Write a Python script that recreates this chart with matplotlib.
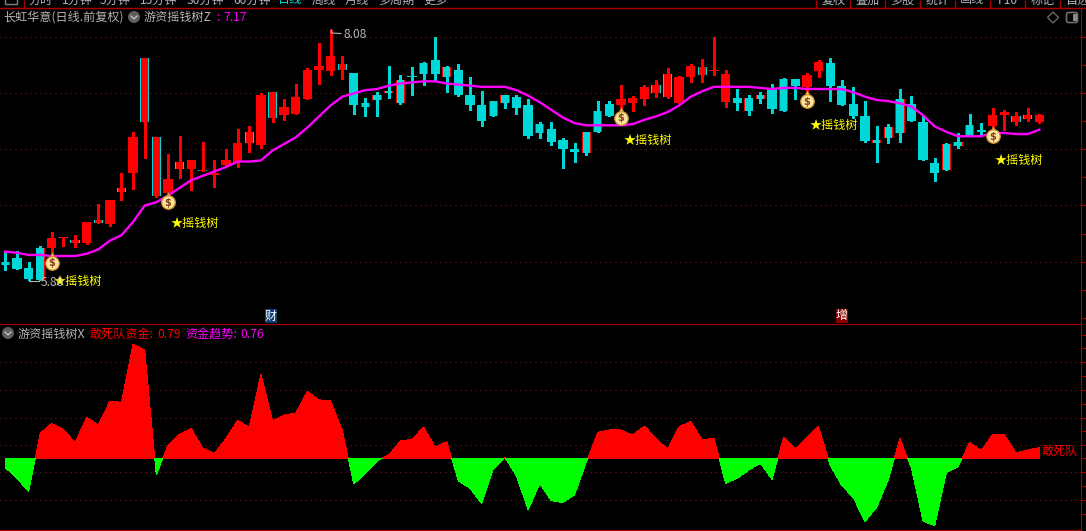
import matplotlib
matplotlib.use("Agg")
import matplotlib.pyplot as plt
from matplotlib.patches import Rectangle, Polygon, FancyBboxPatch, Circle
import numpy as np

plt.rcParams['font.family'] = ['Noto Sans CJK SC', 'DejaVu Sans']

# candle data
highs = [6.06, 6.07, 5.97, 6.11, 6.24, 6.19, 6.21, 6.33, 6.49, 6.53,
         6.78, 7.15, 7.82, 7.10, 6.95, 7.11, 6.89, 7.06, 6.89, 6.99,
         7.18, 7.20, 7.50, 7.51, 7.45, 7.59, 7.73, 7.96, 8.08, 7.84,
         7.69, 7.46, 7.51, 7.75, 7.67, 7.74, 7.79, 8.01, 7.75, 7.77,
         7.65, 7.52, 7.43, 7.49, 7.49, 7.45, 7.24, 7.24, 7.09, 7.05,
         7.15, 7.43, 7.43, 7.58, 7.48, 7.58, 7.62, 7.73, 7.66, 7.77,
         7.81, 8.01, 7.71, 7.54, 7.49, 7.51, 7.59, 7.64, 7.63, 7.69,
         7.80, 7.82, 7.62, 7.56, 7.43, 7.20, 7.22, 7.54, 7.48, 7.29,
         6.91, 7.05, 7.14, 7.31, 7.23, 7.37, 7.35, 7.33, 7.37, 7.31]
lows = [5.89, 5.90, 5.80, 5.80, 6.03, 6.11, 6.10, 6.13, 6.32, 6.29,
        6.53, 6.63, 6.91, 6.56, 6.58, 6.73, 6.62, 6.79, 6.65, 6.84,
        6.83, 6.97, 7.00, 7.24, 7.26, 7.31, 7.45, 7.59, 7.67, 7.63,
        7.31, 7.29, 7.29, 7.46, 7.40, 7.49, 7.58, 7.62, 7.51, 7.48,
        7.35, 7.20, 7.29, 7.37, 7.31, 7.09, 7.09, 7.03, 6.82, 6.88,
        6.94, 7.15, 7.29, 7.35, 7.34, 7.39, 7.47, 7.46, 7.41, 7.60,
        7.60, 7.67, 7.38, 7.35, 7.30, 7.41, 7.32, 7.34, 7.45, 7.51,
        7.65, 7.43, 7.39, 7.28, 7.06, 6.88, 7.05, 7.06, 7.25, 6.89,
        6.70, 6.80, 7.00, 7.11, 7.12, 7.19, 7.17, 7.21, 7.25, 7.23]
body_top = [5.97, 6.00, 5.91, 6.09, 6.18, 6.19, 6.17, 6.33, 6.35, 6.53,
            6.64, 7.10, 7.82, 7.10, 6.72, 6.88, 6.89, 6.80, 6.78, 6.89,
            7.05, 7.15, 7.49, 7.51, 7.38, 7.47, 7.71, 7.75, 7.84, 7.77,
            7.69, 7.41, 7.49, 7.52, 7.62, 7.66, 7.78, 7.80, 7.74, 7.71,
            7.49, 7.39, 7.43, 7.49, 7.47, 7.39, 7.22, 7.18, 7.08, 6.99,
            7.15, 7.34, 7.40, 7.45, 7.46, 7.56, 7.58, 7.68, 7.65, 7.75,
            7.74, 7.71, 7.68, 7.46, 7.46, 7.49, 7.55, 7.63, 7.63, 7.67,
            7.79, 7.78, 7.57, 7.40, 7.29, 7.08, 7.19, 7.45, 7.40, 7.24,
            6.87, 7.04, 7.06, 7.21, 7.17, 7.30, 7.33, 7.29, 7.30, 7.30]
body_bot = [5.94, 5.90, 5.81, 5.80, 6.09, 6.18, 6.14, 6.14, 6.32, 6.31,
            6.60, 6.78, 7.24, 6.57, 6.59, 6.81, 6.81, 6.79, 6.76, 6.85,
            6.88, 7.05, 7.03, 7.28, 7.30, 7.31, 7.45, 7.71, 7.70, 7.71,
            7.39, 7.38, 7.44, 7.50, 7.41, 7.65, 7.68, 7.68, 7.65, 7.49,
            7.39, 7.25, 7.29, 7.41, 7.37, 7.11, 7.14, 7.06, 6.99, 6.97,
            6.96, 7.15, 7.29, 7.39, 7.41, 7.45, 7.50, 7.47, 7.41, 7.65,
            7.67, 7.70, 7.42, 7.41, 7.34, 7.45, 7.36, 7.34, 7.57, 7.56,
            7.70, 7.57, 7.39, 7.29, 7.07, 7.05, 7.09, 7.14, 7.25, 6.89,
            6.78, 6.80, 7.02, 7.11, 7.15, 7.20, 7.30, 7.24, 7.27, 7.24]
# R red, r red with cyan sides, C cyan, c cyan with red sides
candle_kind = ("cCCcRrrRrR" "rRrrRrRrRR" "RrRrRRRRRr" "CccccCcCcC" "CCccCCcCCC"
               "ccCRRRrrRR" "rRRCccCcCR" "RCCCCcccCC" "CcccCRRrrR")

# magenta line of the upper panel
line_z = [6.06, 6.05, 6.03, 6.03, 6.02, 6.02, 6.02, 6.04, 6.08, 6.16,
          6.21, 6.33, 6.48, 6.51, 6.57, 6.64, 6.71, 6.75, 6.79, 6.83,
          6.88, 6.88, 6.89, 6.98, 7.04, 7.10, 7.19, 7.29, 7.39, 7.47,
          7.50, 7.53, 7.54, 7.57, 7.59, 7.60, 7.61, 7.61, 7.59, 7.58,
          7.57, 7.56, 7.56, 7.56, 7.53, 7.48, 7.42, 7.35, 7.28, 7.23,
          7.21, 7.21, 7.21, 7.21, 7.22, 7.26, 7.29, 7.33, 7.39, 7.47,
          7.52, 7.56, 7.56, 7.56, 7.56, 7.55, 7.54, 7.55, 7.55, 7.54,
          7.54, 7.54, 7.54, 7.51, 7.47, 7.44, 7.43, 7.41, 7.38, 7.30,
          7.20, 7.15, 7.11, 7.11, 7.11, 7.14, 7.14, 7.13, 7.13, 7.17]

# lower panel values
fund_x = [-0.69, -1.49, -2.48, 1.86, 2.60, 2.16, 1.17, 3.05, 2.48, 4.27,
          4.17, 8.51, 8.06, -1.24, 0.99, 1.79, 2.23, 0.74, 0.37, 1.49,
          2.83, 2.33, 6.27, 2.80, 3.22, 3.37, 4.98, 4.36, 4.27, 2.11,
          -1.91, -1.12, -0.20, 0.25, 1.29, 1.41, 2.33, 0.84, 1.24, -1.69,
          -2.23, -3.37, -0.79, 0.07, -1.31, -3.84, -1.88, -3.15, -3.30, -2.73,
          -0.30, 1.93, 2.11, 2.11, 1.74, 2.41, 1.49, 0.69, 2.36, 2.75,
          1.36, 1.51, -1.86, -1.49, -0.87, -0.37, -1.56, 1.59, 0.72, 1.56,
          2.38, -0.50, -2.03, -2.93, -4.71, -3.65, -1.61, 1.49, -0.74, -4.69,
          -5.01, -1.07, -0.62, 1.19, 0.57, 1.81, 1.74, 0.42, 0.62, 0.79]

# signal marks
bag_idx = [4, 14, 53, 69, 85]
bag_price = [5.97, 6.52, 7.29, 7.44, 7.12]
star_price = [5.79, 6.32, 7.07, 7.21, 6.89]

main_grid = [8.01, 7.50, 6.99, 6.48, 5.97]
main_minor = [7.755, 7.245, 6.735, 6.225, 5.715, 5.46]
sub_grid = [7.2, 5.1, 3.0, 1.0, -1.0, -3.1]
sub_minor = [9.2, 8.2, 6.15, 4.05, 2.0, 0.0, -2.05, -4.15]

menu_left = ["分时", "1分钟", "5分钟", "15分钟", "30分钟", "60分钟", "日线", "周线", "月线", "多周期", "更多"]
menu_left_x = [28, 62, 100, 140, 187, 233, 278, 312, 345, 378, 423]
menu_right = ["复权", "叠加", "多股", "统计", "画线", "F10", "标记", "自选"]
menu_right_x = [816, 850, 885, 920, 955, 990, 1025, 1060]

RED = '#ff0000'
CYAN = '#00d8d8'
FRAME = '#a80000'
GRID = '#8a1c1c'
GRAY = '#b4b4b4'
FS = 8.7

W, H = 1086, 531
fig = plt.figure(figsize=(W / 100, H / 100), dpi=100, facecolor='black')


def px_axes(left, top, right, bottom):
    return fig.add_axes([left / W, 1 - bottom / H, (right - left) / W, (bottom - top) / H])


def label(x, y, s, color=GRAY, **kw):
    kw.setdefault('fontsize', FS)
    return fig.text(x / W, 1 - y / H, s, color=color, va='center', **kw)


idx = np.arange(len(highs))
xlim = (-0.456, 92.59)

# upper panel
ax = px_axes(0, 7.5, 1081, 324)
ax.set_facecolor('black')
ax.set_xlim(xlim)
ax.set_ylim(8.35 - 0.0091 * 324, 8.35 - 0.0091 * 7.5)

for i in idx:
    k = candle_kind[i]
    fill = RED if k in 'Rr' else CYAN
    side = {'R': RED, 'r': CYAN, 'C': CYAN, 'c': RED}[k]
    wick = RED if k in 'Rr' else CYAN
    ax.vlines(i, lows[i], highs[i], color=wick, lw=0.75, antialiased=False, zorder=2)
    h = max(body_top[i] - body_bot[i], 0.012)
    ax.bar(i, h, bottom=body_bot[i], width=0.8, color=side, antialiased=False, zorder=3)
    ax.bar(i, h, bottom=body_bot[i], width=0.63, color=fill, antialiased=False, zorder=3)

ax.plot(idx, line_z, color='#ff00ff', lw=1.7, zorder=4)

# high and low notes
label(344, 34, "8.08")
label(41, 282.5, "5.80")
ax.plot([28.05, 28.05, 28.9], [8.08, 8.05, 8.045], color=GRAY, lw=0.8, zorder=5)
ax.plot([2.05, 2.9], [5.79, 5.79], color=GRAY, lw=0.8, zorder=5)

for i, p, sp in zip(bag_idx, bag_price, star_price):
    ax.scatter(i, p + 0.06, s=20, marker='^', color='#f2cf6a', edgecolors='#a86a10', linewidths=0.6, zorder=6)
    ax.scatter(i, p - 0.012, s=95, marker='o', color='#f8e6a0', edgecolors='#d09030', linewidths=0.9, zorder=6)
    ax.text(i, p - 0.014, "$", color='#8a4010', fontsize=7, fontweight='bold', family='DejaVu Sans',
            ha='center', va='center', zorder=7)
    ax.text(i + 0.19, sp, "★摇钱树", color='#ffff00', fontsize=FS, va='center', ha='left', zorder=8)

ax.hlines(main_grid, xlim[0], xlim[1], color=GRID, lw=0.72, linestyles=[(0, (1, 4))], zorder=1)
ax.set_yticks(main_grid)
ax.set_yticks(main_minor, minor=True)
ax.set_xticks([])

# lower panel
ax2 = px_axes(0, 324, 1081, 529.5)
ax2.set_facecolor('black')
ax2.set_xlim(xlim)
ax2.set_ylim((458.3 - 529.5) * 0.0745, (458.3 - 324) * 0.0745)
vals = np.array(fund_x)
ax2.hlines(sub_grid, xlim[0], xlim[1], color=GRID, lw=0.72, linestyles=[(0, (1, 4))], zorder=1)
ax2.fill_between(idx, 0, vals, where=vals >= 0, interpolate=True, color=RED, lw=0, antialiased=False, zorder=2)
ax2.fill_between(idx, 0, vals, where=vals <= 0, interpolate=True, color='#00ff00', lw=0, antialiased=False, zorder=3)
ax2.text(89.2, 0.52, "敢死队", color=RED, fontsize=FS, va='center', ha='left')
ax2.set_yticks(sub_grid)
ax2.set_yticks(sub_minor, minor=True)
ax2.set_xticks([])

for a in (ax, ax2):
    for s in ('left', 'bottom'):
        a.spines[s].set_visible(False)
    a.spines['top'].set_color(FRAME)
    a.spines['right'].set_color(FRAME)
    a.spines['bottom'].set_color(FRAME)
    a.yaxis.tick_right()
    a.tick_params(axis='y', which='both', colors=FRAME, labelright=False, length=3.5, width=0.72)
ax2.spines['bottom'].set_visible(True)

# headers
label(3, 17.5, "长虹华意(日线.前复权)")
label(144, 17.5, "游资摇钱树Z")
label(216, 17.5, ":", color='#ff00ff')
label(223, 17.5, "7.17", color='#ff00ff')
label(18, 334, "游资摇钱树X")
label(90, 334, "敢死队资金:", color=RED)
label(157, 334, "0.79", color=RED)
label(185, 334, "资金趋势:", color='#ff00ff')
label(240, 334, "0.76", color='#ff00ff')

# overlay for toolbar and small icons, in pixel coordinates
over = fig.add_axes([0, 0, 1, 1], facecolor='none')
over.set_xlim(0, W)
over.set_ylim(H, 0)
over.axis('off')
over.hlines(7.5, 0, W, color=FRAME, lw=1)
over.vlines(23.5, 0, 7.5, color=FRAME, lw=1)
over.add_patch(Rectangle((5, -4), 12, 8, fill=False, ec='#808080', lw=1))
for x, s in zip(menu_left_x, menu_left):
    over.text(x, 0, s, color='#00e0e0' if s == "日线" else GRAY, fontsize=FS, va='center', clip_on=True)
for x, s in zip(menu_right_x, menu_right):
    over.vlines(x, 0, 7.5, color=FRAME, lw=1)
    over.text(x + 17.5, 0, s, color=GRAY, fontsize=FS, va='center', ha='center', clip_on=True)

for cx, cy in [(134, 17), (8, 333)]:
    over.add_patch(Circle((cx, cy), 6, color='#5e5e5e', lw=0))
    over.plot([cx - 3, cx, cx + 3], [cy - 1, cy + 2, cy - 1], color='#c8c8c8', lw=0.9)

over.add_patch(Polygon([(1053, 12), (1058.5, 17.5), (1053, 23), (1047.5, 17.5)], fill=False, ec='#666666', lw=1))
over.add_patch(FancyBboxPatch((1067, 13), 10, 9, boxstyle='round,pad=0.5,rounding_size=2', fill=False, ec='#707070', lw=1.2))
over.add_patch(Rectangle((1073, 14), 3.5, 7, color='#8a8a8a', lw=0))

# event marks on the date line
over.text(271, 316, "财", color='white', fontsize=FS, ha='center', va='center',
          bbox=dict(fc='#0c3c70', ec='none', pad=0.3))
over.text(842, 316, "增", color='white', fontsize=FS, ha='center', va='center',
          bbox=dict(fc='#8a0000', ec='none', pad=0.3))

plt.savefig("out.png", dpi=100, facecolor='black')
